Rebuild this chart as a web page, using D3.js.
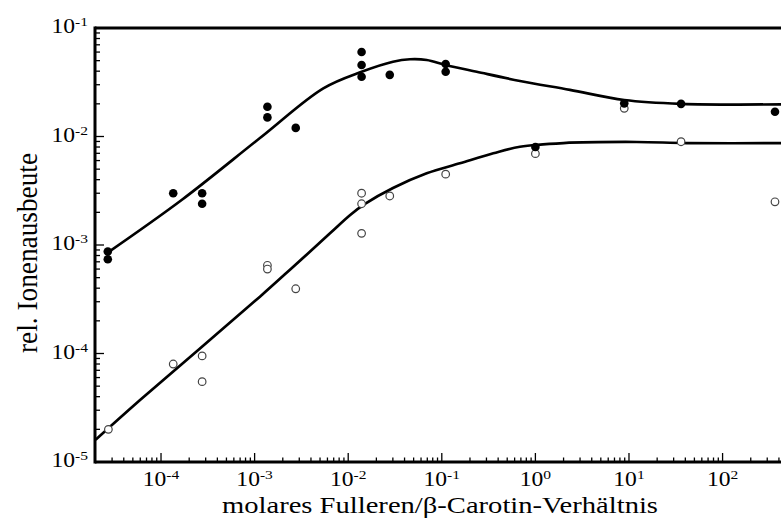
<!DOCTYPE html>
<html>
<head>
<meta charset="utf-8">
<script src="https://cdn.jsdelivr.net/npm/d3@7"></script>
<style>
  body { margin: 0; background: #fff; }
  svg text { font-family: "Liberation Serif", Tinos, "Times New Roman", Times, serif; }
</style>
</head>
<body>
<svg id="chart" width="781" height="520"></svg>
<script>
// measured points, [ratio, yield]
const filled = [
  [2.7e-5, 8.7e-4], [2.7e-5, 7.4e-4], [1.35e-4, 3.0e-3], [2.75e-4, 3.0e-3],
  [2.75e-4, 2.4e-3], [1.37e-3, 1.88e-2], [1.37e-3, 1.5e-2], [2.75e-3, 1.2e-2],
  [1.39e-2, 6.0e-2], [1.39e-2, 4.56e-2], [1.39e-2, 3.55e-2], [2.78e-2, 3.7e-2],
  [0.11, 4.66e-2], [0.11, 3.95e-2], [1.0, 8.0e-3], [8.9, 2.02e-2],
  [36, 2.0e-2], [363, 1.69e-2]
];
const open = [
  [2.74e-5, 2.0e-5], [1.35e-4, 8.0e-5], [2.75e-4, 9.5e-5], [2.75e-4, 5.5e-5],
  [1.37e-3, 6.5e-4], [1.37e-3, 6.0e-4], [2.75e-3, 3.95e-4], [1.39e-2, 3.0e-3],
  [1.39e-2, 2.4e-3], [1.39e-2, 1.28e-3], [2.78e-2, 2.83e-3], [0.11, 4.5e-3],
  [1.0, 6.95e-3], [8.9, 1.82e-2], [36, 8.95e-3], [363, 2.5e-3]
];
// fitted curves
const fitUpper = [
  [2.65e-5, 8.43e-4], [1.66e-4, 2.6e-3], [1.14e-3, 9.68e-3], [5.42e-3, 2.78e-2],
  [1.39e-2, 3.95e-2], [3.01e-2, 4.89e-2], [4.57e-2, 5.15e-2], [6.9e-2, 5.07e-2],
  [0.11, 4.56e-2], [0.236, 3.95e-2], [0.684, 3.25e-2], [2.34, 2.69e-2],
  [8.9, 2.17e-2], [36, 2.0e-2], [500, 1.98e-2]
];
const fitLower = [
  [2.0e-5, 1.6e-5], [5.97e-5, 3.72e-5], [1.14e-3, 3.34e-4], [2.59e-3, 6.31e-4],
  [6.39e-3, 1.28e-3], [1.05e-2, 1.89e-3], [1.51e-2, 2.39e-3], [3.01e-2, 3.35e-3],
  [6.9e-2, 4.58e-3], [0.156, 5.66e-3], [0.355, 7.0e-3],
  [0.684, 8.05e-3], [1.99, 8.7e-3], [12.1, 8.9e-3], [41.3, 8.7e-3], [500, 8.68e-3]
];
const xDecades = [-4, -3, -2, -1, 0, 1, 2];
const yDecades = [-5, -4, -3, -2, -1];
const xTitle = "molares Fulleren/\u03B2-Carotin-Verh\u00E4ltnis";
const yTitle = "rel. Ionenausbeute";

const svg = d3.select("#chart");

const x = d3.scaleLog().domain([2e-5, 500]).range([95.6, 788]);
const y = d3.scaleLog().domain([1e-5, 1e-1]).range([462, 28]);
const x0 = 95, y0 = 462, yTop = 28;

// minor + major ticks
const xTicks = [];
for (let e = -5; e <= 2; e++) for (let m = 1; m <= 9; m++) {
  const v = m * Math.pow(10, e);
  if (v > 2e-5 && v < 500) xTicks.push({ v, major: m === 1 });
}
const yTicks = [];
for (let e = -5; e <= -2; e++) for (let m = 1; m <= 9; m++) {
  const v = m * Math.pow(10, e);
  if (v >= 1e-5 && v <= 1e-1) yTicks.push({ v, major: m === 1 });
}

svg.append("g").selectAll("line").data(xTicks).join("line")
  .attr("x1", d => x(d.v)).attr("x2", d => x(d.v))
  .attr("y1", y0).attr("y2", d => y0 - (d.major ? 9 : 4.5))
  .attr("stroke", "#000").attr("stroke-width", 1.3);

svg.append("g").selectAll("line").data(yTicks).join("line")
  .attr("y1", d => y(d.v)).attr("y2", d => y(d.v))
  .attr("x1", x0).attr("x2", d => x0 + (d.major ? 9 : 5))
  .attr("stroke", "#000").attr("stroke-width", 1.3);

// frame
const frame = svg.append("g").attr("stroke", "#000").attr("stroke-width", 3).attr("fill", "none");
frame.append("line").attr("x1", x0).attr("x2", 800).attr("y1", y0).attr("y2", y0);
frame.append("line").attr("x1", x0).attr("x2", 800).attr("y1", yTop).attr("y2", yTop);
frame.append("line").attr("x1", x0).attr("x2", x0).attr("y1", yTop - 1.5).attr("y2", y0 + 1.5);

// tick labels: 10 with superscript exponent
function powLabel(g, e) {
  g.append("tspan").text("10").attr("font-size", 20.5);
  g.append("tspan").text(e).attr("font-size", 13.5).attr("dy", -7);
}
svg.append("g").selectAll("text").data(yDecades).join("text")
  .attr("text-anchor", "end")
  .attr("transform", d => `translate(88,${y(Math.pow(10, d)) + 5}) scale(1.15,1)`)
  .each(function (d) { powLabel(d3.select(this), "-" + Math.abs(d)); });

svg.append("g").selectAll("text").data(xDecades).join("text")
  .attr("text-anchor", "middle")
  .attr("transform", d => `translate(${x(Math.pow(10, d))},486) scale(1.15,1)`)
  .each(function (d) { powLabel(d3.select(this), d < 0 ? "-" + Math.abs(d) : String(d)); });

// titles
svg.append("text").text(xTitle)
  .attr("x", 222).attr("y", 513)
  .attr("font-size", 23)
  .attr("textLength", 436).attr("lengthAdjust", "spacingAndGlyphs");

svg.append("text").text(yTitle)
  .attr("transform", "translate(37,353) scale(1.25,1) rotate(-90)")
  .attr("font-size", 23)
  .attr("textLength", 200).attr("lengthAdjust", "spacingAndGlyphs");

// curves
const line = d3.line().x(d => x(d[0])).y(d => y(d[1])).curve(d3.curveCatmullRom.alpha(0.5));
svg.append("clipPath").attr("id", "plotclip")
  .append("rect").attr("x", x0).attr("y", yTop).attr("width", 781 - x0).attr("height", y0 - yTop);

const plot = svg.append("g").attr("clip-path", "url(#plotclip)");
[fitUpper, fitLower].forEach(c => {
  plot.append("path").attr("d", line(c))
    .attr("fill", "none").attr("stroke", "#000").attr("stroke-width", 2.7);
});

plot.append("g").selectAll("circle").data(open).join("circle")
  .attr("cx", d => x(d[0])).attr("cy", d => y(d[1])).attr("r", 3.8)
  .attr("fill", "#fff").attr("stroke", "#444").attr("stroke-width", 1.2);

plot.append("g").selectAll("circle").data(filled).join("circle")
  .attr("cx", d => x(d[0])).attr("cy", d => y(d[1])).attr("r", 4.3)
  .attr("fill", "#000");
</script>
</body>
</html>
